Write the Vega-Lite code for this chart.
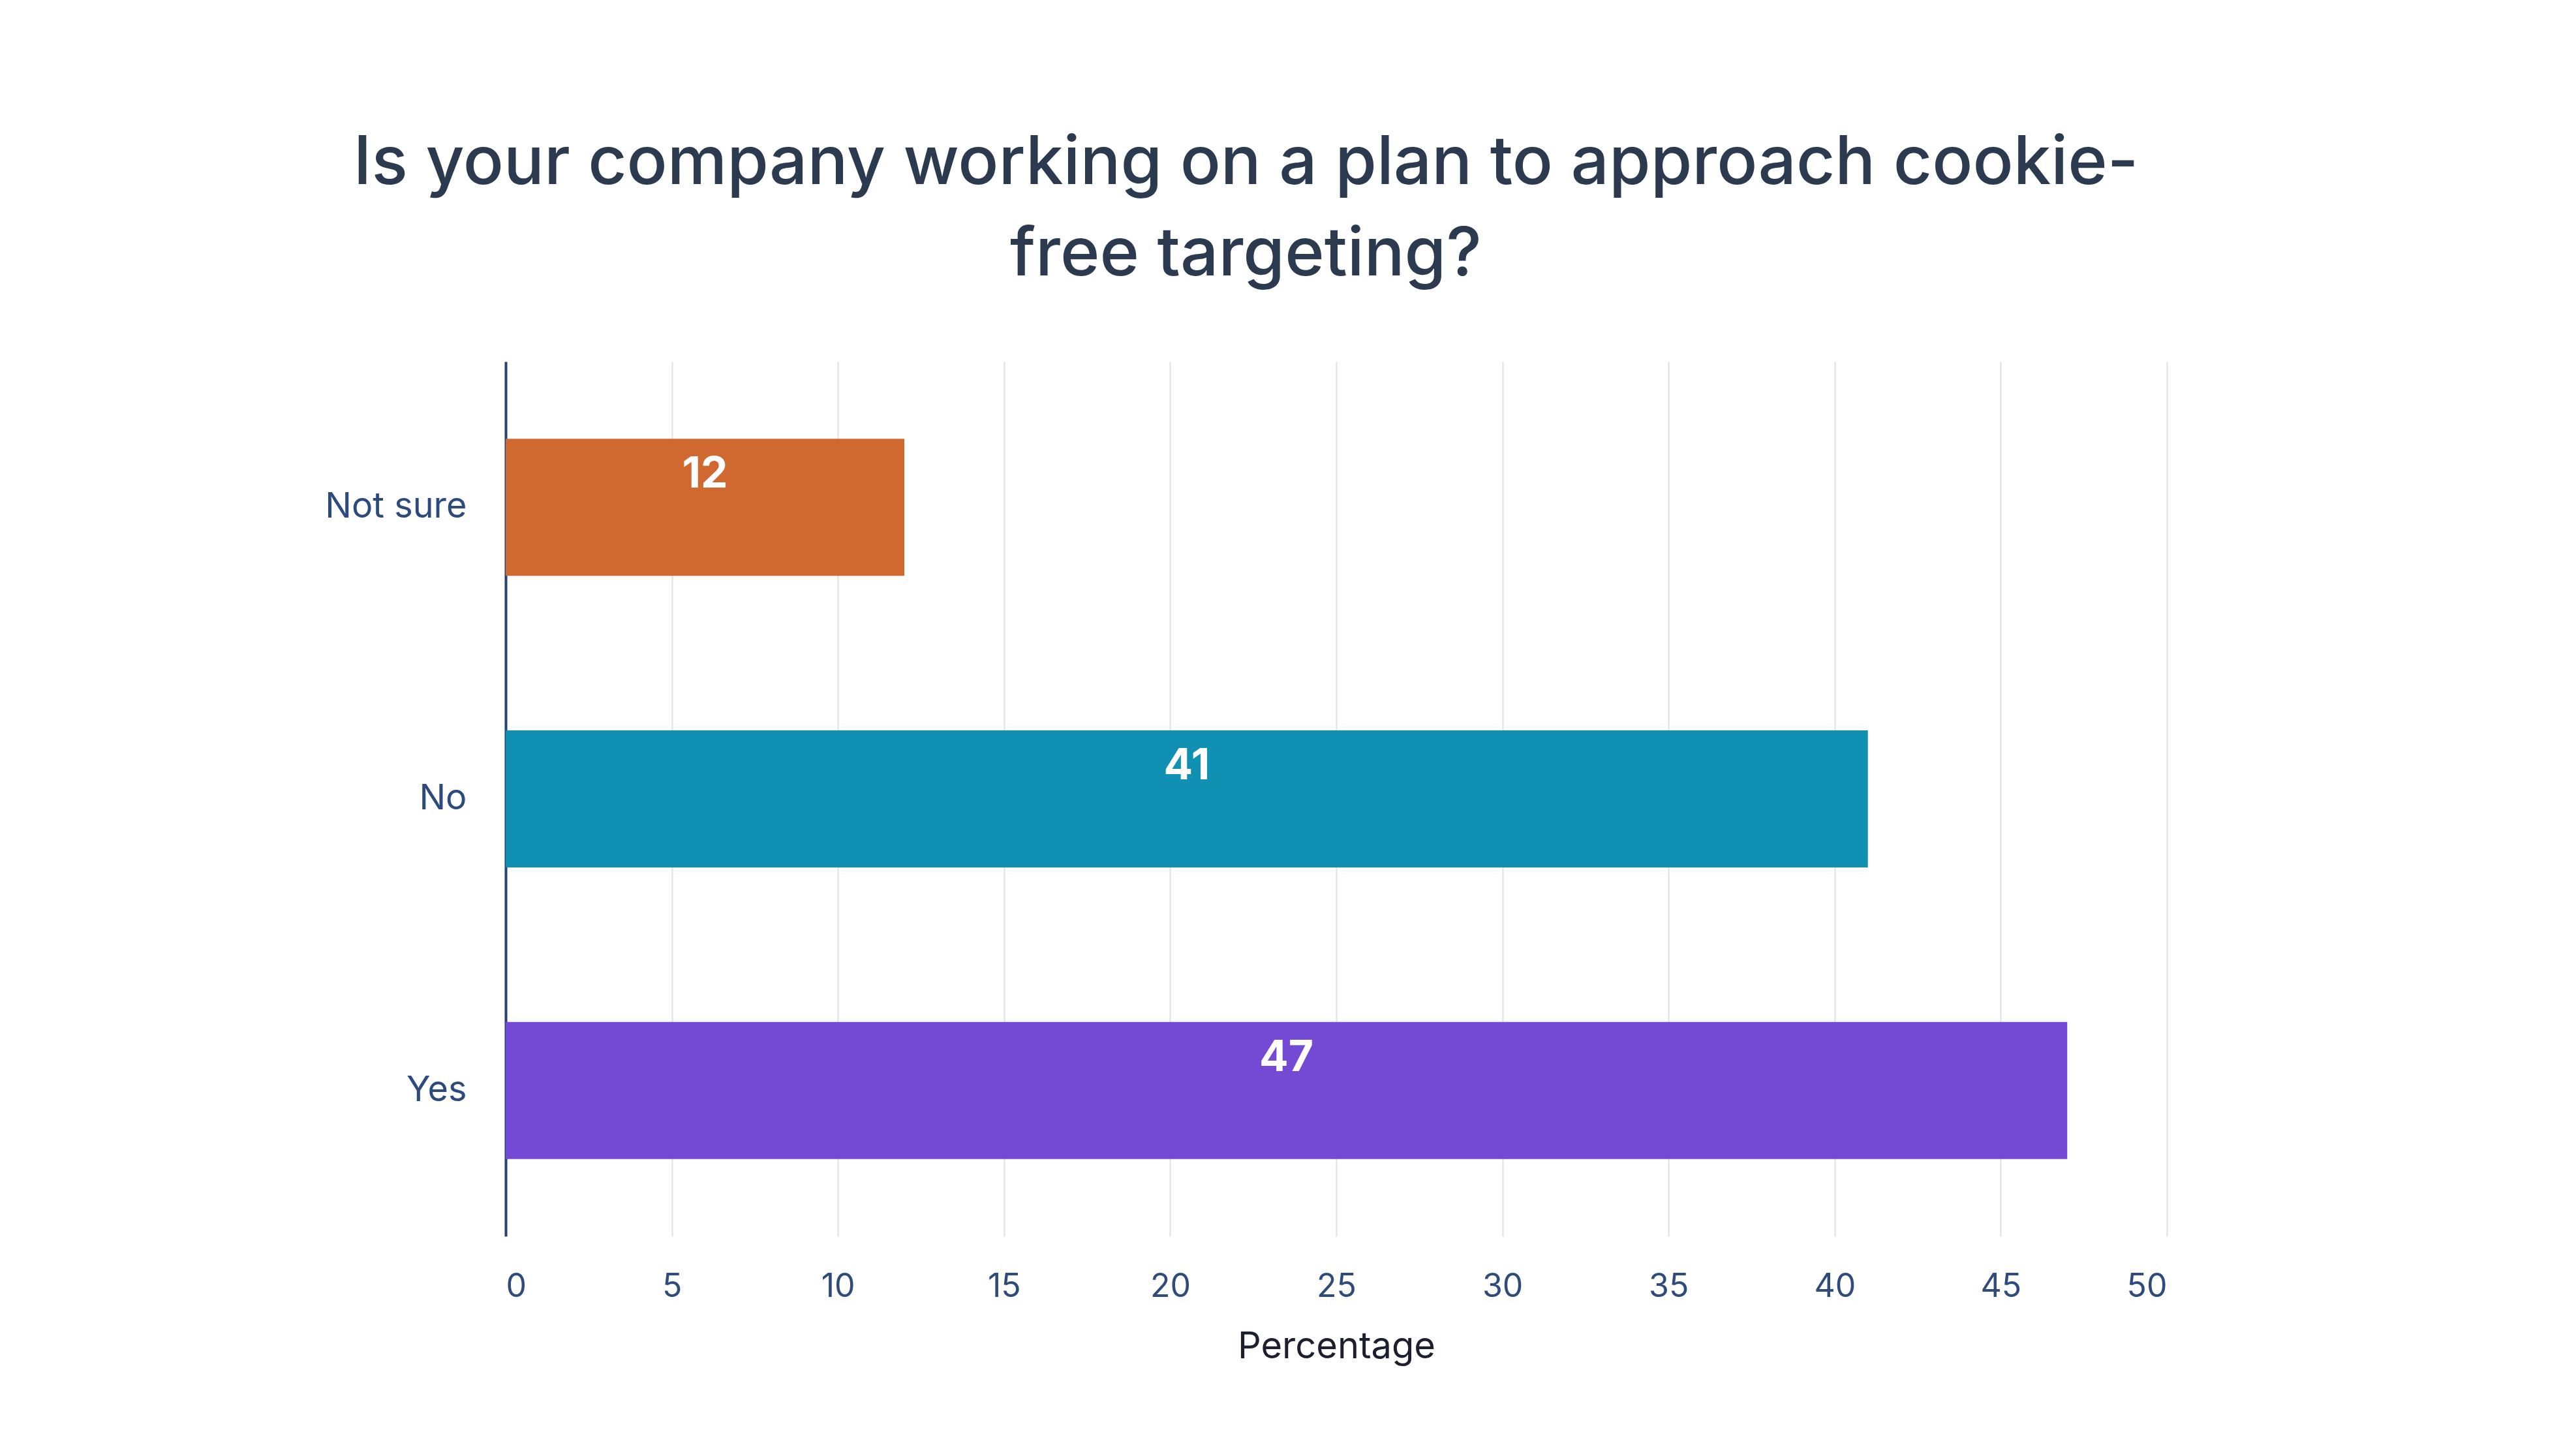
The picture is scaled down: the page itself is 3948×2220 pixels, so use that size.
{
  "$schema": "https://vega.github.io/schema/vega-lite/v6.json",
  "width": 2546,
  "height": 1340,
  "autosize": {"type": "none"},
  "padding": {"left": 775, "top": 554, "right": 627, "bottom": 326},
  "background": "white",
  "title": {
    "text": ["Is your company working on a plan to approach cookie-", "free targeting?"],
    "fontSize": 103,
    "lineHeight": 140,
    "font": "Inter",
    "fontWeight": 500,
    "color": "#2b3a4e",
    "anchor": "middle",
    "frame": "bounds",
    "offset": 110
  },
  "data": {
    "values": [
      {"answer": "Not sure", "value": 12},
      {"answer": "No", "value": 41},
      {"answer": "Yes", "value": 47}
    ]
  },
  "layer": [
    {
      "mark": {"type": "bar"},
      "encoding": {
        "y": {
          "field": "answer",
          "type": "nominal",
          "sort": ["Not sure", "No", "Yes"],
          "scale": {"paddingInner": 0.53, "paddingOuter": 0.265},
          "axis": {
            "title": null,
            "domain": true,
            "domainColor": "#26407a",
            "domainWidth": 4,
            "ticks": false,
            "labelFontSize": 54,
            "labelFont": "Inter",
            "labelColor": "#2c4a7e",
            "labelPadding": 60,
            "labelLimit": 600
          }
        },
        "x": {
          "field": "value",
          "type": "quantitative",
          "scale": {"domain": [0, 50]},
          "axis": {
            "values": [0, 5, 10, 15, 20, 25, 30, 35, 40, 45, 50],
            "domain": false,
            "ticks": false,
            "grid": true,
            "gridColor": "#e0e0e0",
            "gridWidth": 2,
            "labelFontSize": 50,
            "labelFont": "Inter",
            "labelColor": "#2f4b7c",
            "labelPadding": 52,
            "title": "Percentage",
            "titleFont": "Inter",
            "titleFontSize": 56,
            "titleFontWeight": "normal",
            "titleColor": "#1b1f2e",
            "titlePadding": 40
          }
        },
        "color": {
          "field": "answer",
          "type": "nominal",
          "scale": {"domain": ["Not sure", "No", "Yes"], "range": ["#d0692f", "#1090b2", "#7449d3"]},
          "legend": null
        }
      }
    },
    {
      "mark": {"type": "text", "dy": -50, "align": "center", "baseline": "middle", "fontSize": 66, "fontWeight": "bold", "font": "Inter", "color": "white"},
      "encoding": {
        "y": {"field": "answer", "type": "nominal", "sort": ["Not sure", "No", "Yes"]},
        "x": {"field": "value", "type": "quantitative", "scale": {"domain": [0, 100]}, "axis": null},
        "text": {"field": "value", "type": "quantitative"}
      }
    }
  ],
  "resolve": {"scale": {"x": "independent"}},
  "config": {"view": {"stroke": null}}
}
